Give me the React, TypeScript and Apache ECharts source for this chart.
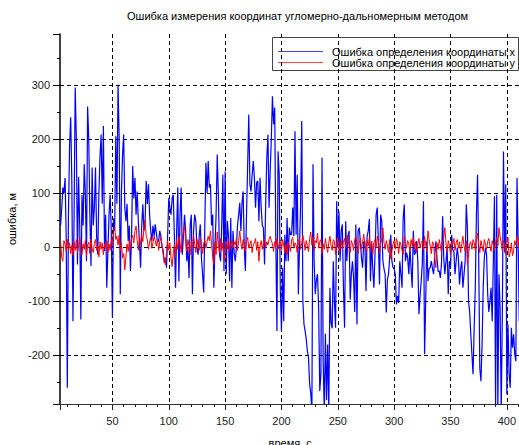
import React, { useEffect, useRef } from "react";
import * as echarts from "echarts";

const TITLE = "Ошибка измерения координат угломерно-дальномерным методом";
const X_NAME = "время, с";
const Y_NAME = "ошибка, м";
const LEGEND_X = "Ошибка определения координаты x";
const LEGEND_Y = "Ошибка определения координаты y";

const X_MIN = 3.5;
const X_MAX = 412;
const Y_MIN = -290;
const Y_MAX = 394;

// time of first sample (s), one sample per second
const T_START = 4;

// error in x coordinate, m (t = 4 .. 411)
const errX = [
  40, 70, 110, 100, 128, 20, -260, 60, 187, 240,
  120, -137, 60, 295, 200, -32, 130, 40, -134, 97,
  40, 153, 100, -26, 260, 200, 60, -35, 147, 40,
  73, 147, 20, -14, 100, 168, 208, 80, 224, -7,
  60, -75, -7, 60, 97, 30, -130, 53, 30, 205,
  80, 300, 202, -87, 100, 171, 208, 73, 48, 80,
  11, 40, -44, 20, 150, 90, 128, 60, 103, 48,
  10, -38, 40, 79, 30, 48, 122, 80, 116, 60,
  30, 11, 40, 20, 42, 25, 10, 11, 30, 20,
  0, -5, -29, -20, -38, 20, 91, 73, 60, 91,
  97, 20, -75, 30, 110, -63, 60, 110, -14, 20,
  60, 30, -26, 0, -57, 40, 60, -87, 30, 60,
  48, 0, -14, 20, 42, -20, -50, -84, 40, 156,
  100, 159, 110, 116, 40, 60, -75, -1, 60, 171,
  100, -14, -26, 40, 134, -44, 140, -50, 48, 20,
  -63, 54, -75, 30, -10, -26, -1, 40, 60, 82,
  30, 82, 103, -1, -44, 60, 150, 245, 116, 103,
  134, 159, 128, 73, 120, 122, 48, 128, 73, 40,
  36, -32, 80, 165, 208, 73, 140, 200, 279, 227,
  258, 11, -155, 177, 134, -81, -155, -38, -137, 23,
  -26, 54, -26, 36, 23, 23, 73, 20, 214, 23,
  134, -87, -1, 80, 233, -100, -143, -155, -170, -192,
  -205, -253, -270, -305, 153, -26, -87, -60, -50, -112,
  -266, -235, 165, -210, -305, -160, -283, -180, -305, -75,
  -140, -150, -26, -100, -149, 85, -1, 66, -26, 30,
  42, -75, -149, 48, -26, 20, 30, -97, -50, -26,
  -57, -120, 42, -143, 30, 36, 11, -20, -38, 10,
  11, -81, 20, 30, 52, -63, 11, -40, -75, -14,
  60, 73, 11, -69, 60, 48, -26, -40, -50, -121,
  -60, -50, -20, 23, -26, -38, -40, -50, -106, -90,
  -103, -26, -50, -75, 54, 79, -26, -10, -20, -50,
  0, -40, -75, 30, -14, -10, 11, -26, -124, -90,
  -63, -30, 85, -198, -100, 11, -63, -40, -38, -26,
  -40, -50, -14, 11, -20, -45, -44, -57, -30, 57,
  -20, -50, -26, -1, -87, -26, -38, 23, -5, -8,
  -50, -26, -1, -20, -69, -40, -26, -75, -50, -26,
  79, 36, -100, -120, -161, -198, -235, -149, -75, 60,
  134, -14, -224, -248, -180, -75, -20, -1, -14, -87,
  -120, -100, -75, -137, -26, 94, -305, 97, -305, -50,
  -112, -305, -124, 177, -10, 116, -272, -143, -235, -260,
  -149, -186, -161, -198, -211, 128, 11, -137,
];

// error in y coordinate, m (t = 4 .. 411)
const errY = [
  10, -18, -26, 12, 5, -8, 15, -5, 8, -12,
  3, -15, 10, -6, 14, -10, 2, 18, -8, -14,
  6, -4, 12, -16, 4, 9, -12, 15, -3, -10,
  7, 14, -6, 2, -18, 10, -4, 8, -14, 5,
  -2, 12, -10, 6, -6, 16, 2, 28, 36, 14,
  20, 4, 22, -6, 8, -20, -12, -42, -18, 6,
  -8, 12, -4, 16, 22, 8, 30, 39, 12, -6,
  18, 4, 24, 10, 36, 50, 20, 14, -4, 10,
  18, -2, 8, 20, 12, 2, 14, -6, 10, 18,
  4, -14, -22, -33, -10, 12, -6, 8, -20, -36,
  -12, 6, -18, 14, -4, 20, 8, -10, 16, 28,
  40, 10, -8, 14, 2, -14, 10, -2, 22, 6,
  -10, 14, 4, -6, 18, 8, -12, 6, 14, -2,
  10, 20, 12, 30, 6, -18, -32, 10, -14, 28,
  4, -10, 16, -6, 8, -26, -12, 10, -4, 14,
  -8, 6, 12, -2, 10, 4, 16, -6, 12, 30,
  8, -4, 14, 2, -8, 10, 18, -2, 6, 12,
  -10, 4, 8, 16, -6, 10, -26, 2, 12, -4,
  8, 16, -2, 10, 4, 14, 20, 12, 6, -8,
  10, 2, 16, -4, 8, 12, -6, 14, 4, -10,
  6, -14, 10, 2, -8, 14, 18, -2, 8, 4,
  -10, 12, 16, -4, 6, 22, 10, -6, 12, 2,
  -8, 16, 28, 4, 18, -6, 12, 8, 26, -2,
  10, 14, -12, 6, -4, 16, 2, -10, 8, 20,
  4, -6, 14, 10, -14, 6, 18, -8, 2, 12,
  -4, 10, 16, -2, 8, 22, 4, -10, 12, 6,
  -6, 14, 20, 2, -12, 8, 16, -4, 10, 24,
  6, -8, 12, 2, 18, -6, 10, -14, 8, 14,
  -2, 20, 10, -10, 6, 16, 36, 8, -4, 12,
  2, -10, 14, -22, -8, 6, 12, -4, 16, 8,
  -12, 10, 4, -6, -14, 20, 8, -2, 12, 6,
  -8, 14, 2, 18, -4, 10, -10, 6, 16, -2,
  8, 12, -6, 20, 4, -8, 30, 14, 2, -12,
  10, 6, -20, -38, 8, -4, 14, 2, -10, 12,
  18, 36, 6, -8, 12, 2, -14, 10, 4, 16,
  -6, 8, 14, -2, 10, -10, 6, 20, 2, -8,
  12, -32, -14, 6, 10, -4, 14, 8, -6, 16,
  26, 4, -10, 12, 2, -8, 14, 6, -4, 10,
  16, 2, -8, 12, 4, -6, 10, 18, 2, 36,
  20, 8, -6, 12, 4, -14, 6, 18, -18, -10,
  8, -16, -6, 12, 4, 20, 14, -4,
];

const FONT = "'Liberation Sans', Arial, sans-serif";

export default function App() {
  const ref = useRef<HTMLDivElement>(null);

  useEffect(() => {
    if (!ref.current) return;
    const chart = echarts.init(ref.current, undefined, { renderer: "svg" });

    const dataX = errX.map((v, i) => [T_START + i, v]);
    const dataY = errY.map((v, i) => [T_START + i, v]);

    const grid = "#000";
    chart.setOption({
      animation: false,
      backgroundColor: "#fff",
      textStyle: { fontFamily: FONT },
      title: {
        text: TITLE,
        left: 127,
        top: 10,
        padding: 0,
        textStyle: { fontSize: 11, fontWeight: "normal", color: "#000", fontFamily: FONT },
      },
      grid: {
        left: 60,
        top: 34,
        width: (X_MAX - X_MIN) * 1.127,
        height: 370,
        containLabel: false,
        outerBoundsMode: "none",
      },
      xAxis: {
        type: "value",
        min: X_MIN,
        max: X_MAX,
        splitNumber: 8,
        minInterval: 50,
        maxInterval: 50,
        name: X_NAME,
        nameLocation: "middle",
        nameGap: 33,
        nameTextStyle: { fontSize: 11, color: "#000", fontFamily: FONT },
        axisLine: { show: true, onZero: false, lineStyle: { color: "#333", width: 1 } },
        axisTick: { show: true, inside: false, length: 6, lineStyle: { color: "#222" } },
        minorTick: { show: true, splitNumber: 5, length: 3, lineStyle: { color: "#222" } },
        axisLabel: {
          show: true,
          margin: 11,
          fontSize: 11,
          color: "#222",
          fontFamily: FONT,
          showMinLabel: false,
          showMaxLabel: false,
        },
        splitLine: {
          show: true,
          showMinLine: false,
          showMaxLine: false,
          lineStyle: { color: grid, type: [4, 3], width: 1 },
        },
      },
      yAxis: {
        type: "value",
        min: Y_MIN,
        max: Y_MAX,
        splitNumber: 7,
        minInterval: 100,
        maxInterval: 100,
        name: Y_NAME,
        nameLocation: "middle",
        nameGap: 40,
        nameTextStyle: { fontSize: 11, color: "#000", fontFamily: FONT },
        axisLine: { show: true, onZero: false, lineStyle: { color: "#000", width: 1.5 } },
        axisTick: { show: true, inside: false, length: 7, lineStyle: { color: "#000" } },
        minorTick: { show: true, splitNumber: 2, length: 3, lineStyle: { color: "#000" } },
        axisLabel: {
          show: true,
          margin: 10,
          fontSize: 11,
          color: "#222",
          fontFamily: FONT,
          showMinLabel: false,
          showMaxLabel: false,
        },
        splitLine: {
          show: true,
          showMinLine: false,
          showMaxLine: false,
          lineStyle: { color: grid, type: [4, 3], width: 1 },
        },
      },
      series: [
        {
          name: LEGEND_X,
          type: "line",
          data: dataX,
          showSymbol: false,
          symbol: "none",
          clip: true,
          lineStyle: { color: "#0000ff", width: 1.2 },
          itemStyle: { color: "#0000ff" },
          z: 2,
        },
        {
          name: LEGEND_Y,
          type: "line",
          data: dataY,
          showSymbol: false,
          symbol: "none",
          clip: true,
          lineStyle: { color: "#ff0000", width: 1 },
          itemStyle: { color: "#ff0000" },
          z: 3,
        },
      ],
      graphic: [
        {
          type: "group",
          z: 100,
          children: [
            {
              type: "rect",
              shape: { x: 272.5, y: 37.5, width: 246, height: 33 },
              style: { fill: "#fff", stroke: "#444", lineWidth: 1 },
            },
            {
              type: "line",
              shape: { x1: 278, y1: 51.5, x2: 323, y2: 51.5 },
              style: { stroke: "#4444ff", lineWidth: 1 },
            },
            {
              type: "line",
              shape: { x1: 278, y1: 62.5, x2: 323, y2: 62.5 },
              style: { stroke: "#ff4444", lineWidth: 1 },
            },
            {
              type: "text",
              x: 332,
              y: 51.5,
              style: { text: LEGEND_X, fill: "#000", font: "11px " + FONT, verticalAlign: "middle" },
            },
            {
              type: "text",
              x: 332,
              y: 62.5,
              style: { text: LEGEND_Y, fill: "#000", font: "11px " + FONT, verticalAlign: "middle" },
            },
          ],
        },
      ],
    });

    return () => {
      chart.dispose();
    };
  }, []);

  return (
    <div
      ref={ref}
      style={{ position: "fixed", left: 0, top: 0, width: 519, height: 445, background: "#fff" }}
    />
  );
}
